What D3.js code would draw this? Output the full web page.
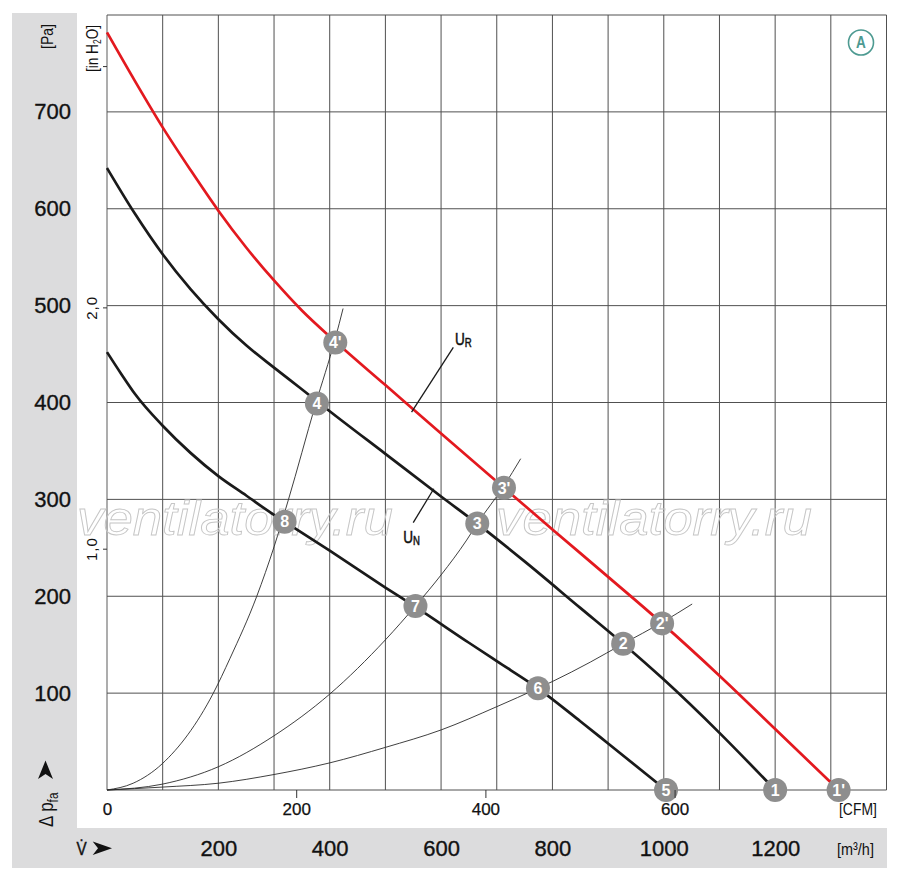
<!DOCTYPE html>
<html><head><meta charset="utf-8">
<script src="https://cdn.jsdelivr.net/npm/d3@7"></script>
<style>
body{margin:0;background:#fff;}
svg{display:block;}
</style></head><body>
<svg id="c" width="900" height="880"></svg>
<script>
// ---- tick data ----
const paTicks=[100,200,300,400,500,600,700];
const flowTicks=[200,400,600,800,1000,1200];      // m³/h
const cfmTicks=[0,200,400,600];                    // CFM
const inH2OTicks=[1,2,3];
const inH2OLabels=["1,0","2,0",""];

// ---- fan curves [m³/h, Pa] ----
const curveUR=[[0,782],[50,732],[100,684],[150,640],[200,598],[250,560],[300,526],[350,495],[410,463],[500,418],[600,368],[713,312],[800,269],[900,220],[997,172],[1100,118],[1200,63],[1314,0]];
const curveUN=[[0,642],[50,595],[100,553],[150,517],[200,486],[250,459],[300,436],[347,415],[400,391],[500,347],[600,303],[665,275],[750,236],[850,188],[927,151],[1000,114],[1100,59],[1200,0]];
const curveLow=[[0,452],[25,430],[50,409],[100,376],[150,348],[200,324],[250,304],[300,284],[319,277],[400,247],[500,209],[554,189],[650,152],[700,133],[774,105],[850,71],[900,48],[1004,0]];

// ---- system curves [m³/h, Pa] ----
const sys1=[[0,0],[47,7],[99,27],[191,100],[221,136],[269,200],[300,251],[326,300],[374,397],[410,466],[424,497]];
const sys2=[[0,0],[99,6],[200,24],[300,56],[400,99],[500,155],[554,190],[600,222],[646,258],[665,275],[713,314],[743,342]];
const sys3=[[0,0],[99,3],[200,7],[300,16],[400,28],[500,44],[600,62],[700,86],[774,105],[800,112],[868,132],[927,151],[997,173],[1051,192]];

// ---- operating point markers ----
const markerLabels=["1'","2'","3'","4'","1","2","3","4","5","6","7","8"];
const markerQ=[1314,997,713,410,1200,927,665,377,1004,774,554,319];
const markerP=[0,172,312,462,0,151,275,399,0,105,190,277];

// ---- curve labels ----
const annotText=["U","U"];
const annotSub=["R","N"];
const annotQ=[625,532];
const annotP=[459,255];
const leaderFrom=[[547,390],[550,276]];
const leaderTo=[[622,457],[587,311]];

const REG='"Liberation Sans",Arial,sans-serif';
const INK='#111';

const svg=d3.select('#c');
const x=d3.scaleLinear().domain([0,1400]).range([107,886.5]);
const y=d3.scaleLinear().domain([0,800]).range([790,15]);
const xCfm=d3.scaleLinear().domain([0,1400/1.699]).range(x.range());
const yIn=d3.scaleLinear().domain([0,800/249.09]).range(y.range());

// condensed text helper
function ctext(tx,ty,rot,sx,size,anchor){
  return svg.append('text')
    .attr('transform',`translate(${tx},${ty})`+(rot?` rotate(${rot})`:'')+` scale(${sx},1)`)
    .attr('text-anchor',anchor||'start').attr('font-family',REG).attr('font-size',size).attr('fill',INK);
}
function heavy(sel,w){ sel.attr('stroke',INK).attr('stroke-width',w||0.35); }

// gray panels
svg.append('rect').attr('x',12).attr('y',13).attr('width',65).attr('height',855).attr('fill','#dcdcdd');
svg.append('rect').attr('x',12).attr('y',828).attr('width',875).attr('height',40).attr('fill','#dcdcdd');

// grid
const grid=svg.append('g').attr('stroke','#505050').attr('stroke-width',1);
grid.selectAll('line.gv').data(d3.range(0,1401,100)).join('line').attr('class','gv')
  .attr('x1',d=>x(d)).attr('x2',d=>x(d)).attr('y1',y(0)).attr('y2',y(800))
  .attr('stroke',d=>d===0?'#999':null).attr('stroke-width',d=>d===0?1.6:null);
grid.selectAll('line.gh').data(d3.range(0,801,100)).join('line').attr('class','gh')
  .attr('x1',x(0)).attr('x2',x(1400)).attr('y1',d=>y(d)).attr('y2',d=>y(d));

// watermark
[[77,535],[496,535]].forEach(p=>{
  svg.append('text').attr('transform',`translate(${p[0]},${p[1]}) scale(1.1,1)`).text('ventilatorry.ru')
    .attr('font-family',REG).attr('font-style','italic').attr('font-size',48)
    .attr('fill','none').attr('stroke','#c6c6c6').attr('stroke-width',0.9);
});

const line=d3.line().x(d=>x(d[0])).y(d=>y(d[1])).curve(d3.curveMonotoneX);

// system curves
[sys1,sys2,sys3].forEach(s=>{
  svg.append('path').attr('d',line(s)).attr('fill','none').attr('stroke','#2a2a2a').attr('stroke-width',0.9);
});
// fan curves
svg.append('path').attr('d',line(curveLow)).attr('fill','none').attr('stroke','#1a1a1a').attr('stroke-width',2.7);
svg.append('path').attr('d',line(curveUN)).attr('fill','none').attr('stroke','#1a1a1a').attr('stroke-width',2.7);
svg.append('path').attr('d',line(curveUR)).attr('fill','none').attr('stroke','#e3191f').attr('stroke-width',2.7);

// leaders + labels
leaderFrom.forEach((f,i)=>{
  svg.append('line').attr('x1',x(f[0])).attr('y1',y(f[1])).attr('x2',x(leaderTo[i][0])).attr('y2',y(leaderTo[i][1]))
    .attr('stroke','#1a1a1a').attr('stroke-width',1.3);
  const t=ctext(x(annotQ[i]),y(annotP[i]),0,0.8,17).text(annotText[i]);
  t.append('tspan').attr('font-size',12).attr('dy',2).text(annotSub[i]);
  heavy(t,0.5);
});

// markers
const mk=svg.append('g').selectAll('g').data(markerLabels).join('g')
  .attr('transform',(d,i)=>`translate(${x(markerQ[i])},${y(markerP[i])})`);
mk.append('circle').attr('r',12).attr('fill','#8e8e8e');
mk.append('text').text(d=>d).attr('text-anchor','middle').attr('dy','0.36em')
  .attr('font-family',REG).attr('font-weight','bold').attr('font-size',16).attr('fill','#fff');

// Pa axis labels
const ax1=svg.append('g').attr('transform','translate(71,0)')
  .call(d3.axisLeft(y).tickValues(paTicks).tickSize(0).tickPadding(0))
  .call(g=>g.select('.domain').remove())
  .attr('font-family',REG).attr('font-size',22);
ax1.selectAll('text').attr('fill',INK).call(heavy);

// in H2O axis
const ax2=svg.append('g').attr('transform',`translate(${x(0)},0)`)
  .call(d3.axisLeft(yIn).tickValues(inH2OTicks).tickSize(4).tickFormat((d,i)=>inH2OLabels[i]))
  .call(g=>g.select('.domain').remove())
  .attr('font-family',REG).attr('font-size',15);
ax2.selectAll('line').attr('stroke','#333');
ax2.selectAll('text').attr('transform','rotate(-90)').attr('x',0).attr('y',-10).attr('dy',0)
  .attr('text-anchor','middle').attr('letter-spacing',1).attr('fill',INK);

// CFM axis
const ax3=svg.append('g').attr('transform',`translate(0,${y(0)})`)
  .call(d3.axisBottom(xCfm).tickValues(cfmTicks).tickSize(8).tickPadding(5).tickFormat(d3.format('d')))
  .call(g=>g.select('.domain').remove())
  .attr('font-family',REG).attr('font-size',17);
ax3.selectAll('line').attr('stroke',d=>d===0?'none':'#333');
ax3.selectAll('text').attr('fill',INK).call(heavy,0.25);

// m³/h axis labels
const ax4=svg.append('g').attr('transform','translate(0,840)')
  .call(d3.axisBottom(x).tickValues(flowTicks).tickSize(0).tickPadding(0).tickFormat(d3.format('d')))
  .call(g=>g.select('.domain').remove())
  .attr('font-family',REG).attr('font-size',22);
ax4.selectAll('text').attr('fill',INK).call(heavy);

// unit labels
ctext(53,36.5,-90,0.82,17,'middle').text('[Pa]');
const ih=ctext(97.5,48.5,-90,0.85,16,'middle');
ih.append('tspan').text('[in H');
ih.append('tspan').attr('font-size',10).attr('dy',3).text('2');
ih.append('tspan').attr('dy',-3).text('O]');
ctext(839,815,0,0.82,17).text('[CFM]');
ctext(837,855,0,0.85,17).text('[m³/h]');

// Δ p_fa label
const dp=ctext(53,827,-90,0.85,20);
dp.append('tspan').text('Δ p');
dp.append('tspan').attr('font-size',14).attr('dy',5).text('fa');
svg.append('path').attr('d','M45.5,760.5 L53,779 L45.5,774 L38,779 Z').attr('fill',INK);

// V̇ label
ctext(76.5,855,0,0.85,18).text('V̇').call(heavy,0.4);
svg.append('path').attr('d','M112,848.3 L92.7,841.5 L98,848.3 L92.7,855 Z').attr('fill',INK);

// A badge
svg.append('circle').attr('cx',861).attr('cy',42.5).attr('r',12.5).attr('fill','none').attr('stroke','#4d9a91').attr('stroke-width',1.6);
ctext(861,42.5,0,0.85,16,'middle').attr('dy','0.36em').attr('font-weight','bold').attr('fill','#4d9a91').text('A');
</script>
</body></html>
